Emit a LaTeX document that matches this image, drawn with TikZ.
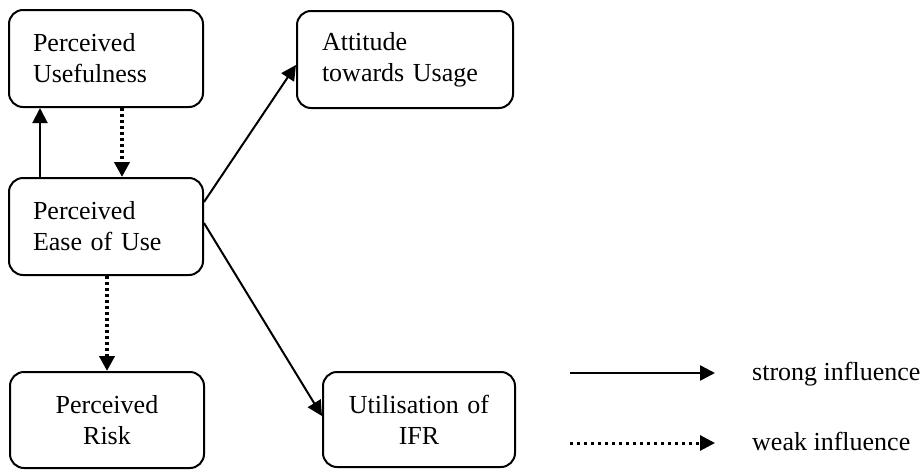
\documentclass[tikz,border=0pt]{standalone}
\usepackage{fontspec}
\setmainfont{Liberation Serif}
\usetikzlibrary{arrows.meta}
\begin{document}
\begin{tikzpicture}[x=1pt,y=-1pt,
  box/.style={draw, line width=2pt, rounded corners=14pt, inner xsep=0pt,
    minimum height=97pt, font=\fontsize{26}{31}\selectfont},
  leftbox/.style={box, align=left},
  midbox/.style={box, align=center},
  tip/.style={-{Triangle[length=15pt,width=15pt]}},
  strong/.style={tip, line width=2pt},
  weak/.style={tip, line width=4pt, dash pattern=on 3pt off 3pt},
  legendweak/.style={tip, line width=3pt, dash pattern=on 3pt off 4pt},
  legendtext/.style={anchor=base west, inner sep=0pt, font=\fontsize{26}{31}\selectfont}]
\useasboundingbox (0,0) rectangle (924,469);

% construct boxes
\node[leftbox, minimum width=194pt, text width=146pt] (pu) at (106,58.5)
  {Perceived\\Usefulness};
\node[leftbox, minimum width=194pt, text width=146pt] (peu) at (106,226.5)
  {Perceived\\Ease of Use};
\node[midbox, minimum width=194pt, minimum height=96pt, text width=180pt] (pr) at (107,420)
  {Perceived\\Risk};
\node[leftbox, minimum width=216pt, text width=166pt] (atu) at (405,59.5)
  {Attitude\\towards Usage};
\node[midbox, minimum width=192pt, minimum height=95pt, text width=180pt] (uifr) at (419,419.5)
  {Utilisation of\\IFR};

% influences
\draw[strong] ([xshift=-66pt]peu.north) -- ([xshift=-66pt]pu.south);
\draw[weak] ([xshift=16pt]pu.south) -- ([xshift=16pt]peu.north);
\draw[weak] (peu.south -| pr.north) -- (pr.north);
\draw[strong] ([yshift=24.5pt]peu.east) -- ([yshift=-5.5pt]atu.west);
\draw[strong] ([yshift=3.5pt]peu.east) -- ([yshift=3.5pt]uifr.west);

% legend
\coordinate (s1) at (570,373);
\coordinate (s2) at (715,373);
\coordinate (w1) at (570,443);
\coordinate (w2) at (715,443);
\draw[tip, line width=2.5pt] (s1) -- (s2);
\draw[legendweak] (w1) -- (w2);
\node[legendtext] (ls) at (752,380) {strong influence};
\node[legendtext] (lw) at (752,450) {weak influence};
\end{tikzpicture}
\end{document}
